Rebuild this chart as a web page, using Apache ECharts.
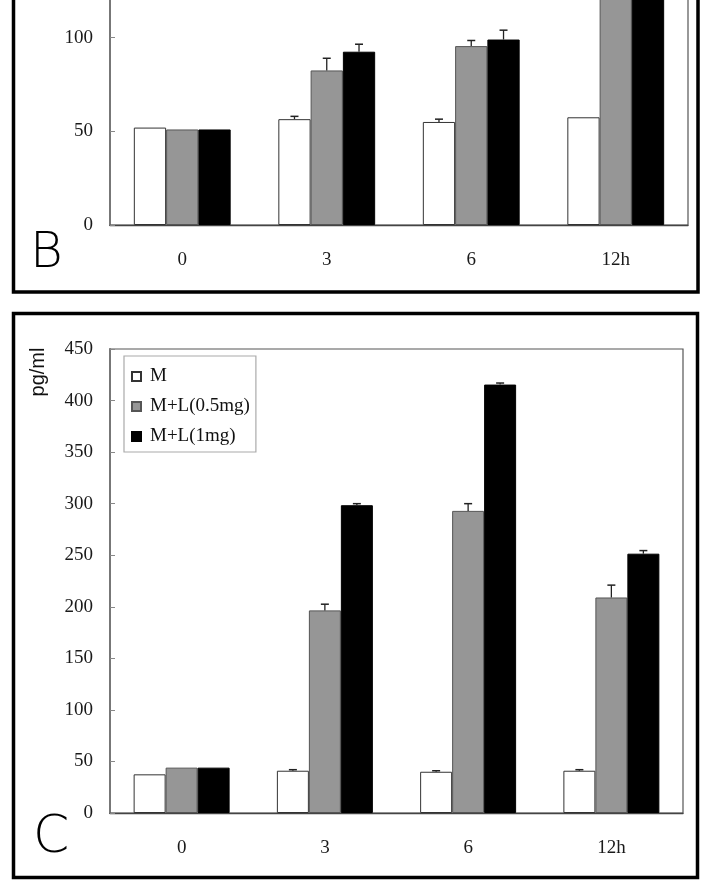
<!DOCTYPE html>
<html>
<head>
<meta charset="utf-8">
<script src="https://cdn.jsdelivr.net/npm/echarts@6/dist/echarts.min.js"></script>
<style>
html,body{margin:0;padding:0;background:#fff;}
#chart{width:709px;height:889px;}
</style>
</head>
<body>
<div id="chart"></div>
<script>
// ---- data ----
const categories = ['0', '3', '6', '12h'];
const seriesNames = ['M', 'M+L(0.5mg)', 'M+L(1mg)'];

// Panel B
const bM = [52, 56.5, 55, 57.5];
const bMErr = [0, 1.5, 1.5, 0];
const bL05 = [51, 82.5, 95.5, 121];
const bL05Err = [0, 6.5, 3, 0];
const bL1 = [51, 92.5, 99, 135];
const bL1Err = [0, 4, 5, 0];

// Panel C
const cM = [37.5, 41, 40, 41];
const cMErr = [0, 1, 1, 1];
const cL05 = [44, 196.5, 293, 209];
const cL05Err = [0, 6, 7, 12];
const cL1 = [44, 298.5, 415.5, 251.5];
const cL1Err = [0, 1.5, 1.5, 3];

const yTicksB = [0, 50, 100, 150];
const yTicksC = [0, 50, 100, 150, 200, 250, 300, 350, 400, 450];

// ---- styles ----
const fills = ['#ffffff', '#969696', '#000000'];
const borders = ['#333333', '#555555', '#000000'];
const serif = '"Liberation Serif", "Times New Roman", serif';
const CAT_GAP = 0.33;
const FS = 19;

function barSeries(vals, idx, gi) {
  return {
    type: 'bar', name: seriesNames[idx], xAxisIndex: gi, yAxisIndex: gi,
    data: vals, barGap: '0%', barCategoryGap: (CAT_GAP * 100) + '%',
    itemStyle: { color: fills[idx], borderColor: borders[idx], borderWidth: 1 },
    emphasis: { disabled: true }, silent: true
  };
}

function errSeries(valsList, errList, gi) {
  const data = [];
  valsList.forEach((vals, si) => {
    vals.forEach((v, ci) => { data.push([ci, v, errList[si][ci], si]); });
  });
  return {
    type: 'custom', xAxisIndex: gi, yAxisIndex: gi, silent: true, z: 5,
    data: data,
    renderItem: function (params, api) {
      const err = api.value(2);
      if (!err) return null;
      const ci = api.value(0), v = api.value(1), si = api.value(3);
      const base = api.coord([ci, v]);
      const top = api.coord([ci, v + err]);
      const band = api.size([1, 0])[0];
      const bw = band * (1 - CAT_GAP) / 3;
      const x = base[0] + (si - 1) * bw;
      const cap = 4;
      return {
        type: 'group',
        children: [
          { type: 'line', shape: { x1: x, y1: base[1], x2: x, y2: top[1] }, style: { stroke: '#222', lineWidth: 1.3 } },
          { type: 'line', shape: { x1: x - cap, y1: top[1], x2: x + cap, y2: top[1] }, style: { stroke: '#222', lineWidth: 1.5 } }
        ]
      };
    }
  };
}

function xAxis(gi) {
  return {
    type: 'category', gridIndex: gi, data: categories,
    axisLine: { lineStyle: { color: '#444', width: 1.3 } },
    axisTick: { inside: true, length: 5, lineStyle: { color: '#888' } },
    axisLabel: { margin: 26, color: '#1a1a1a', fontFamily: serif, fontSize: FS }
  };
}
function yAxis(gi, ticks) {
  return {
    type: 'value', gridIndex: gi, min: ticks[0], max: ticks[ticks.length - 1],
    interval: ticks[1] - ticks[0],
    axisLine: { show: true, lineStyle: { color: '#777', width: 2 } },
    axisTick: { show: true, inside: true, length: 5, lineStyle: { color: '#888' } },
    axisLabel: { margin: 17, color: '#1a1a1a', fontFamily: serif, fontSize: FS },
    splitLine: { show: false }
  };
}

const chart = echarts.init(document.getElementById('chart'), null, { renderer: 'canvas' });
chart.setOption({
  animation: false,
  backgroundColor: '#ffffff',
  grid: [
    { left: 110, width: 578, top: -56, height: 281, show: true, borderColor: '#555', borderWidth: 1.2, backgroundColor: 'transparent', containLabel: false, outerBoundsMode: 'none' },
    { left: 110, width: 573, top: 349, height: 464, show: true, borderColor: '#555', borderWidth: 1.2, backgroundColor: 'transparent', containLabel: false, outerBoundsMode: 'none' }
  ],
  xAxis: [xAxis(0), xAxis(1)],
  yAxis: [yAxis(0, yTicksB), yAxis(1, yTicksC)],
  legend: {
    data: seriesNames, orient: 'vertical', left: 124, top: 356,
    itemWidth: 9, itemHeight: 9, itemGap: 9, icon: 'rect',
    padding: [10, 6, 5, 7],
    borderColor: '#aaa', borderWidth: 1.2, backgroundColor: '#fff',
    selectedMode: false,
    textStyle: { fontFamily: serif, fontSize: FS, color: '#111', lineHeight: 21, padding: [0, 0, 0, 4] }
  },
  series: [
    barSeries(bM, 0, 0), barSeries(bL05, 1, 0), barSeries(bL1, 2, 0),
    errSeries([bM, bL05, bL1], [bMErr, bL05Err, bL1Err], 0),
    barSeries(cM, 0, 1), barSeries(cL05, 1, 1), barSeries(cL1, 2, 1),
    errSeries([cM, cL05, cL1], [cMErr, cL05Err, cL1Err], 1)
  ],
  graphic: [
    { type: 'rect', z: 100, shape: { x: 13.5, y: -20, width: 684.5, height: 312 }, style: { fill: 'none', stroke: '#000', lineWidth: 3.5 } },
    { type: 'rect', z: 100, shape: { x: 13.5, y: 313.5, width: 684, height: 564 }, style: { fill: 'none', stroke: '#000', lineWidth: 3.5 } },
    { type: 'text', z: 100, x: 30, y: 254, style: { text: 'B', fontFamily: '"DejaVu Sans", sans-serif', fontWeight: 200, fontSize: 50, fill: '#000', verticalAlign: 'middle', align: 'left' } },
    { type: 'text', z: 100, x: 33, y: 838, style: { text: 'C', fontFamily: '"DejaVu Sans", sans-serif', fontWeight: 200, fontSize: 52, fill: '#000', verticalAlign: 'middle', align: 'left' } },
    { type: 'text', z: 100, x: 38, y: 372, rotation: Math.PI / 2, style: { text: 'pg/ml', fontFamily: '"Liberation Sans", Arial, sans-serif', fontSize: 20, fill: '#111', verticalAlign: 'middle', align: 'center' } }
  ]
});
</script>
</body>
</html>
